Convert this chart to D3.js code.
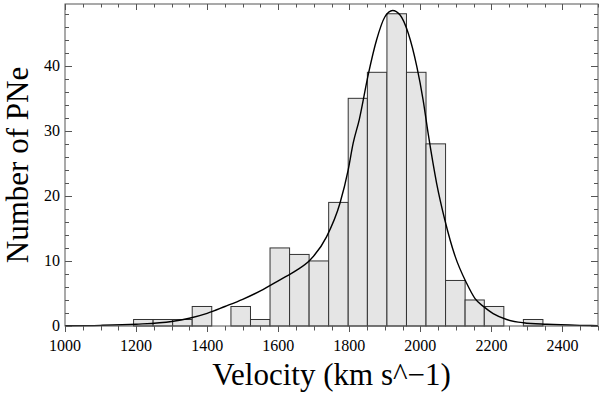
<!doctype html>
<html>
<head>
<meta charset="utf-8">
<script src="https://cdn.jsdelivr.net/npm/d3@7"></script>
<style>
  body { margin: 0; background: #fff; }
  svg { display: block; }
</style>
</head>
<body>
<svg id="chart" width="600" height="395"></svg>
<script>
// histogram bin edges (km/s) and counts
const binEdges = [1193, 1248, 1303, 1358, 1413, 1467, 1522, 1577, 1632, 1687, 1742,
  1797, 1851, 1906, 1961, 2016, 2071, 2126, 2180, 2235, 2290, 2345];
const counts = [1, 1, 1, 3, 0, 3, 1, 12, 11, 10, 19, 35, 39, 48, 39, 28, 7, 4, 3, 0, 1];

// fitted curve
const curveV = [1000, 1100, 1200, 1300, 1350, 1400, 1450, 1500, 1550, 1605, 1650, 1689,
  1736, 1774, 1797, 1811, 1828, 1854, 1877, 1900, 1922, 1943, 1966, 1990, 2008, 2022,
  2046, 2069, 2098, 2130, 2154, 2180, 2205, 2243, 2290, 2356, 2449, 2500];
const curveN = [0.03, 0.1, 0.28, 0.7, 1.2, 1.95, 3.0, 4.1, 5.4, 7.1, 8.5, 10.1,
  13.7, 18.9, 24, 28.1, 31.7, 38.8, 44.0, 47.5, 48.5, 47.8, 45.0, 39.9, 34.7, 29.6,
  21.9, 16.3, 10.7, 6.6, 4.2, 2.9, 1.9, 1.0, 0.5, 0.26, 0.1, 0.06];

const xTicks = [1000, 1200, 1400, 1600, 1800, 2000, 2200, 2400];
const yTicks = [0, 10, 20, 30, 40];

const mLeft = 65, mRight = 598, mTop = 4, mBottom = 326;
const svg = d3.select("#chart");
const font = "'Liberation Serif', 'DejaVu Serif', serif";

let x = d3.scaleLinear().domain([1000, 2500]).range([mLeft, mRight]);
let y = d3.scaleLinear().domain([0, 49.5]).range([mBottom, mTop]);

// bars
svg.append("g")
  .selectAll("rect")
  .data(counts.map((c, i) => ({ c: c, x0: binEdges[i], x1: binEdges[i + 1] })).filter(d => d.c > 0))
  .join("rect")
  .attr("x", d => x(d.x0))
  .attr("y", d => y(d.c))
  .attr("width", d => x(d.x1) - x(d.x0))
  .attr("height", d => y(0) - y(d.c))
  .attr("fill", "#e5e5e5")
  .attr("stroke", "#333")
  .attr("stroke-width", 1);

// curve
let line = d3.line()
  .x((d, i) => x(curveV[i]))
  .y(d => y(d))
  .curve(d3.curveMonotoneX);
svg.append("path")
  .attr("d", line(curveN))
  .attr("fill", "none")
  .attr("stroke", "#000")
  .attr("stroke-width", 1.4);

// frame
svg.append("rect")
  .attr("x", mLeft).attr("y", mTop)
  .attr("width", mRight - mLeft).attr("height", mBottom - mTop)
  .attr("fill", "none")
  .attr("stroke", "#555")
  .attr("stroke-width", 1);

// ticks
const xMinor = d3.range(1000, 2501, 50);
const yMinor = d3.range(0, 49.5, 2);
let tk = svg.append("g").attr("stroke", "#555").attr("stroke-width", 1);
xMinor.forEach(v => {
  let major = v % 200 === 0;
  let px = Math.round(x(v)) + 0.5;
  tk.append("line").attr("x1", px).attr("x2", px).attr("y1", mBottom).attr("y2", mBottom + (major ? 6 : 4.5));
  tk.append("line").attr("x1", px).attr("x2", px).attr("y1", mTop).attr("y2", mTop + (major ? 6 : 3.5));
});
yMinor.forEach(v => {
  let major = v % 10 === 0;
  let py = Math.round(y(v)) + 0.5;
  tk.append("line").attr("x1", mLeft).attr("x2", mLeft + (major ? 7 : 4)).attr("y1", py).attr("y2", py);
  tk.append("line").attr("x1", mRight).attr("x2", mRight - (major ? 7 : 4)).attr("y1", py).attr("y2", py);
});

// tick labels
svg.append("g")
  .selectAll("text")
  .data(xTicks)
  .join("text")
  .attr("x", d => x(d))
  .attr("y", 351)
  .attr("text-anchor", "middle")
  .attr("font-family", font)
  .attr("font-size", "16px")
  .text(d => d);

svg.append("g")
  .selectAll("text")
  .data(yTicks)
  .join("text")
  .attr("x", 60)
  .attr("y", d => y(d) + 5)
  .attr("text-anchor", "end")
  .attr("font-family", font)
  .attr("font-size", "16px")
  .text(d => d);

// axis titles
svg.append("text")
  .attr("x", (mLeft + mRight) / 2)
  .attr("y", 385)
  .attr("text-anchor", "middle")
  .attr("font-family", font)
  .attr("font-size", "31px")
  .text("Velocity (km s^\u22121)");

svg.append("text")
  .attr("transform", "translate(28," + (mTop + mBottom) / 2 + ") rotate(-90)")
  .attr("text-anchor", "middle")
  .attr("font-family", font)
  .attr("font-size", "31px")
  .text("Number of PNe");
</script>
</body>
</html>
